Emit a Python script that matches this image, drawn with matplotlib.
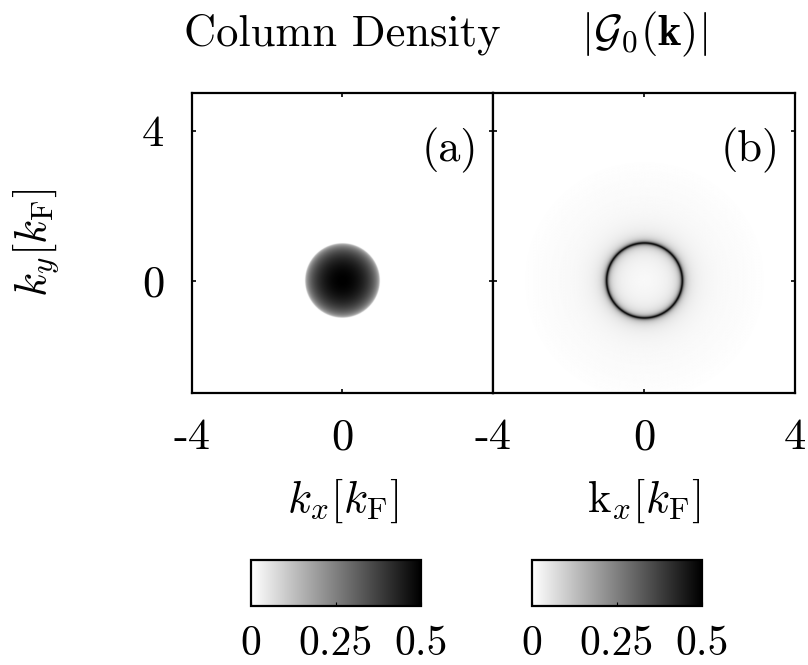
import numpy as np
import matplotlib
matplotlib.use("Agg")
import matplotlib.pyplot as plt

plt.rcParams['font.family'] = ['cmr10', 'DejaVu Serif']
plt.rcParams['mathtext.fontset'] = 'cm'
plt.rcParams['axes.unicode_minus'] = False
plt.rcParams['axes.formatter.use_mathtext'] = True

# axis ranges and ticks (units of k_F)
X_RANGE = [-4, 4]
Y_RANGE = [-3, 5]
X_TICKS = [-4, 0, 4]
Y_TICKS = [0, 4]
X_LABELS_A = ['-4', '0', '']
X_LABELS_B = ['-4', '0', '4']
Y_LABELS = ['0', '4']

# colour scale
CBAR_TICKS = [0, 0.25, 0.5]
CBAR_LABELS = ['0', '0.25', '0.5']
VMAX = 0.5

# model parameters
FERMI_RADIUS = 1.0        # disk / ring radius
DENSITY_PEAK = 0.5        # column density at centre
DENSITY_EXP = 0.4         # profile exponent
RING_PEAK = 0.5           # |G| on the Fermi surface
RING_WIDTH = 0.025        # ring half-width
HALO_CUTOFF = 3.0         # radius where the faint halo vanishes

TITLES = ['Column Density', r'$|\mathcal{G}_\mathbf{0}(\mathbf{k})|$']
PANEL_TAGS = ['(a)', '(b)']
XLABELS = [r'$k_x[k_\mathrm{F}]$', r'$\mathrm{k}_x[k_\mathrm{F}]$']
YLABEL = r'$k_y[k_\mathrm{F}]$'

FS = 32

kx = np.linspace(X_RANGE[0], X_RANGE[1], 800)
ky = np.linspace(Y_RANGE[0], Y_RANGE[1], 800)
KX, KY = np.meshgrid(kx, ky)
R = np.sqrt(KX**2 + KY**2) / FERMI_RADIUS

inside = np.clip(1 - R**2, 0, None)
density = DENSITY_PEAK * inside**DENSITY_EXP
edge = 0.5 * (1 - np.tanh((R - 1) / 0.015))
density = density * edge

ring = RING_PEAK * RING_WIDTH / np.sqrt((R - 1)**2 + RING_WIDTH**2)
halo = 0.5 * (1 - np.tanh((R - HALO_CUTOFF) / 0.4))
green = ring * np.where(R > 1, halo, 1.0)

fig = plt.figure(figsize=(8.08, 6.65), dpi=100)
axa = fig.add_axes([0.2376, 0.409, 0.3725, 0.451])
axb = fig.add_axes([0.6101, 0.409, 0.3738, 0.451])

ims = []
for ax, data, xl, title, tag, xlab in zip(
        [axa, axb], [density, green], [X_LABELS_A, X_LABELS_B],
        TITLES, PANEL_TAGS, XLABELS):
    im = ax.imshow(data, extent=[X_RANGE[0], X_RANGE[1], Y_RANGE[0], Y_RANGE[1]],
                   origin='lower', cmap='gray_r', vmin=0, vmax=VMAX,
                   aspect='auto', interpolation='bilinear')
    ims.append(im)
    ax.set_xlim(X_RANGE)
    ax.set_ylim(Y_RANGE)
    ax.set_xticks(X_TICKS)
    ax.set_xticklabels(xl, fontsize=FS)
    ax.set_yticks(Y_TICKS)
    ax.tick_params(direction='in', length=3, width=1.2, top=True, right=True,
                   pad=18)
    ax.tick_params(axis='y', pad=20)
    for s in ax.spines.values():
        s.set_linewidth(1.6)
    ax.set_title(title, fontsize=FS, pad=34)
    ax.set_xlabel(xlab, fontsize=FS, labelpad=13)
    ax.text(0.95, 0.885, tag, transform=ax.transAxes, ha='right', va='top',
            fontsize=FS)

axa.set_yticklabels(Y_LABELS, fontsize=FS)
axa.set_ylabel(YLABEL, fontsize=FS, labelpad=58)
axb.set_yticklabels([])

cax_a = fig.add_axes([0.3106, 0.0887, 0.2104, 0.0692])
cax_b = fig.add_axes([0.6584, 0.0887, 0.2104, 0.0692])
for cax, im in zip([cax_a, cax_b], ims):
    cb = fig.colorbar(im, cax=cax, orientation='horizontal', ticks=CBAR_TICKS)
    cb.ax.set_xticklabels(CBAR_LABELS, fontsize=FS - 2)
    cb.ax.tick_params(direction='in', length=3, pad=14)
    cb.outline.set_linewidth(1.6)

fig.savefig('out.png', dpi=100)
